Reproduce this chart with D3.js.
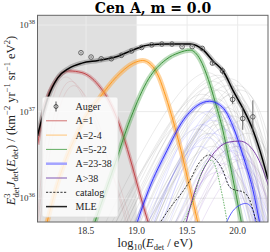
<!DOCTYPE html>
<html>
<head>
<meta charset="utf-8">
<script src="https://cdn.jsdelivr.net/npm/d3@7"></script>
<style>
body { margin: 0; background: #fff; }
text { font-family: "Liberation Serif", "DejaVu Serif", serif; }
</style>
</head>
<body>
<div id="chart"></div>
<script>
// data: [log10(E), log10(E^3 J)]
var augerX = [18.45, 18.55, 18.65, 18.75, 18.85, 18.95, 19.05, 19.15, 19.25, 19.35, 19.45, 19.55, 19.65, 19.75, 19.85, 19.95, 20.05, 20.15];
var augerY = [37.68, 37.63, 37.61, 37.61, 37.65, 37.70, 37.74, 37.77, 37.78, 37.78, 37.75, 37.75, 37.73, 37.56, 37.47, 37.14, 36.92, 36.94];
var augerLo = [37.67, 37.62, 37.60, 37.60, 37.64, 37.69, 37.73, 37.76, 37.77, 37.77, 37.74, 37.74, 37.72, 37.54, 37.43, 37.09, 36.79, 36.77];
var augerHi = [37.69, 37.64, 37.62, 37.62, 37.66, 37.71, 37.75, 37.78, 37.79, 37.79, 37.76, 37.76, 37.74, 37.58, 37.51, 37.19, 37.05, 37.13];

var mle = [[18.02, 36.72], [18.12, 37.15], [18.22, 37.39], [18.33, 37.50], [18.46, 37.56], [18.62, 37.59], [18.79, 37.63],
    [18.96, 37.71], [19.12, 37.77], [19.29, 37.78], [19.53, 37.78], [19.66, 37.71], [19.76, 37.58], [19.86, 37.46],
    [19.96, 37.23], [20.06, 37.02], [20.14, 36.82], [20.22, 36.55], [20.30, 36.22]];
var compA1 = [[18.02, 36.62], [18.10, 37.10], [18.20, 37.36], [18.33, 37.47], [18.46, 37.45], [18.62, 37.31], [18.76, 37.05],
    [18.86, 36.75], [18.96, 36.36], [19.03, 36.06], [19.12, 35.70]];
var compA2 = [[18.11, 35.70], [18.20, 36.10], [18.30, 36.45], [18.40, 36.72], [18.50, 36.95], [18.64, 37.17], [18.80, 37.40],
    [18.97, 37.56], [19.06, 37.59], [19.16, 37.52], [19.22, 37.40], [19.29, 37.17], [19.36, 36.90], [19.44, 36.55],
    [19.52, 36.15], [19.61, 35.70]];
var compA5 = [[18.58, 35.70], [18.77, 36.34], [18.94, 36.92], [19.12, 37.38], [19.29, 37.60], [19.42, 37.68], [19.53, 37.71],
    [19.63, 37.60], [19.71, 37.37], [19.78, 37.10], [19.84, 36.85], [19.94, 36.30], [20.04, 35.70]];
var compA23 = [[19.00, 35.70], [19.12, 36.10], [19.30, 36.55], [19.45, 36.88], [19.60, 37.07], [19.72, 37.12], [19.85, 37.05],
    [19.95, 36.84], [20.05, 36.50], [20.15, 36.10], [20.22, 35.70]];
var compA38 = [[19.49, 35.72], [19.59, 36.13], [19.75, 36.50], [19.92, 36.65], [20.02, 36.66], [20.15, 36.56], [20.25, 36.33], [20.31, 36.12]];
var catalog = [[19.22, 35.70], [19.32, 35.87], [19.52, 36.19], [19.62, 36.41], [19.72, 36.50], [19.75, 36.48], [19.85, 36.33],
    [19.92, 36.13], [19.99, 36.09], [20.04, 36.08], [20.12, 35.98], [20.17, 35.79], [20.20, 35.70]];
var catalogA5 = [[19.45, 35.70], [19.55, 35.95], [19.64, 36.29], [19.74, 36.44], [19.85, 36.02], [19.90, 35.70]];
var catalogA23 = [[19.88, 35.70], [19.95, 35.85], [20.02, 35.92], [20.08, 35.94], [20.15, 35.87], [20.18, 35.70]];

// faint posterior samples: [start, peak x, peak y, end]
var graySamples = [[18.75, 19.75, 37.35, 20.25], [18.80, 19.80, 37.25, 20.30], [18.85, 19.85, 37.40, 20.35], [18.90, 19.70, 37.10, 20.20],
    [18.95, 19.90, 37.30, 20.40], [19.00, 19.85, 37.00, 20.30], [19.05, 19.95, 37.20, 20.45], [19.10, 19.80, 36.85, 20.25],
    [19.15, 19.95, 36.95, 20.40], [19.20, 20.00, 37.10, 20.50], [19.25, 19.90, 36.70, 20.35], [19.30, 20.05, 36.90, 20.50],
    [18.70, 19.65, 37.20, 20.15], [18.65, 19.60, 37.00, 20.10], [19.35, 20.10, 36.75, 20.55], [19.00, 19.75, 36.60, 20.20],
    [18.60, 19.70, 37.45, 20.20], [19.10, 20.00, 37.30, 20.45], [18.90, 19.60, 36.80, 20.10], [19.20, 19.80, 36.50, 20.25],
    [18.70, 19.80, 37.42, 20.28], [18.82, 19.72, 37.28, 20.22], [18.95, 19.78, 37.15, 20.26], [19.05, 19.88, 37.05, 20.36],
    [18.88, 19.92, 37.38, 20.42], [19.12, 19.70, 36.75, 20.18], [19.18, 19.92, 36.85, 20.38], [19.28, 19.98, 36.60, 20.42],
    [18.78, 19.68, 37.15, 20.16], [19.02, 20.02, 37.25, 20.48], [19.40, 20.05, 36.45, 20.45], [18.98, 19.82, 36.90, 20.30]];
var blueSamples = [[19.05, 19.70, 37.00, 20.20], [19.10, 19.75, 36.90, 20.25], [19.15, 19.80, 36.95, 20.30], [19.20, 19.70, 36.70, 20.20],
    [19.00, 19.65, 36.85, 20.15], [19.25, 19.85, 36.80, 20.30], [19.10, 19.80, 37.05, 20.28], [19.30, 19.90, 36.65, 20.35],
    [19.02, 19.75, 36.75, 20.22], [19.18, 19.85, 37.00, 20.32], [19.35, 19.95, 36.55, 20.38], [19.08, 19.62, 36.60, 20.12]];
var purpleSamples = [[19.40, 19.90, 36.55, 20.35], [19.45, 19.95, 36.45, 20.40], [19.35, 19.85, 36.40, 20.30], [19.50, 20.00, 36.60, 20.40],
    [19.55, 20.05, 36.35, 20.45], [19.42, 19.95, 36.70, 20.38], [19.30, 19.80, 36.30, 20.25], [19.48, 20.02, 36.50, 20.42]];
var redSamples = [[18.00, 18.35, 37.35, 18.95], [18.02, 18.38, 37.30, 19.00], [18.00, 18.30, 37.40, 18.98]];

var xTicks = [18.5, 19.0, 19.5, 20.0];
var yTicks = [36, 37, 38];
var legendNames = ["Auger", "A=1", "A=2-4", "A=5-22", "A=23-38", "A>38", "catalog", "MLE"];
var legendColors = ["#444", "#d27272", "#ffc477", "#62ad62", "#a3a3ff", "#8258b4", "#333", "#222"];

var svgWidth = 270, svgHeight = 252;
var x0 = 37.5, x1 = 268, y0 = 15.3, y1 = 222;

var svg = d3.select("#chart").append("svg")
    .attr("width", svgWidth).attr("height", svgHeight);

var xScale = d3.scaleLinear().domain([18.02, 20.30]).range([x0, x1]);
var yScale = d3.scaleLog().domain([Math.pow(10, 35.726), Math.pow(10, 38.112)]).range([y1, y0]);
var py = v => yScale(Math.pow(10, v));

svg.append("clipPath").attr("id", "clip")
    .append("rect").attr("x", x0).attr("y", y0).attr("width", x1 - x0).attr("height", y1 - y0);

// shaded region below 10^19 eV
svg.append("rect")
    .attr("x", x0).attr("y", y0)
    .attr("width", xScale(19.0) - x0).attr("height", y1 - y0)
    .attr("fill", "#e0e0e0");

// grid
svg.selectAll(".gx").data(xTicks).enter().append("line")
    .attr("x1", d => xScale(d)).attr("x2", d => xScale(d))
    .attr("y1", y0).attr("y2", y1)
    .attr("stroke", "#ebebeb").attr("stroke-width", 1);
svg.selectAll(".gy").data(yTicks).enter().append("line")
    .attr("x1", x0).attr("x2", x1)
    .attr("y1", d => py(d)).attr("y2", d => py(d))
    .attr("stroke", "#ebebeb").attr("stroke-width", 1);

var plot = svg.append("g").attr("clip-path", "url(#clip)");

var line = d3.line().x(d => xScale(d[0])).y(d => py(d[1])).curve(d3.curveMonotoneX);
var sampleLine = d3.line().x(d => xScale(d[0])).y(d => py(d[1])).curve(d3.curveNatural);
function samplePts(s) { return [[s[0], 35.5], [s[1], s[2]], [s[3], 35.5]]; }

function drawSamples(arr, color, op) {
    plot.selectAll(null).data(arr).enter().append("path")
        .attr("d", d => sampleLine(samplePts(d)))
        .attr("fill", "none").attr("stroke", color)
        .attr("stroke-width", 0.6).attr("opacity", op);
}
drawSamples(graySamples, "#888", 0.28);
drawSamples(blueSamples, "#6a6aff", 0.28);
drawSamples(purpleSamples, "#9a6ac8", 0.28);
drawSamples(redSamples, "#c44e52", 0.2);

function drawBand(data, color, w, op) {
    plot.append("path").attr("d", line(data))
        .attr("fill", "none").attr("stroke", color)
        .attr("stroke-width", w).attr("opacity", op)
        .attr("stroke-linejoin", "round");
}
function drawLine(data, color, w, dash) {
    plot.append("path").attr("d", line(data))
        .attr("fill", "none").attr("stroke", color)
        .attr("stroke-width", w)
        .attr("stroke-dasharray", dash || null);
}

drawBand(compA1, "#c44e52", 4, 0.35);
drawLine(compA1, "#c0474b", 1);
drawBand(compA2, "#ff9f2a", 5, 0.45);
drawLine(compA2, "#ff9a1f", 1);
drawBand(compA5, "#4aa24a", 5, 0.38);
drawLine(compA5, "#3b943b", 1);
drawBand(compA23, "#4040ff", 4, 0.3);
drawLine(compA23, "#2525ff", 0.9);
drawLine(compA38, "#6e2a9e", 0.9);
drawLine(catalogA5, "#4aa24a", 0.8, "1.5,1.2");
drawLine(catalogA23, "#3a3aff", 0.8);
drawLine(catalog, "#222", 0.9, "2.2,1.4");
drawBand(mle, "#555", 5, 0.35);
drawLine(mle, "#000", 1.5);

// Auger points
plot.selectAll(".eb").data(augerX).enter().append("line")
    .attr("x1", d => xScale(d)).attr("x2", d => xScale(d))
    .attr("y1", (d, i) => py(augerLo[i])).attr("y2", (d, i) => py(augerHi[i]))
    .attr("stroke", "#555").attr("stroke-width", 0.9);
plot.selectAll(".pt").data(augerX).enter().append("circle")
    .attr("cx", d => xScale(d)).attr("cy", (d, i) => py(augerY[i]))
    .attr("r", 2.3).attr("fill", "none")
    .attr("stroke", "#555").attr("stroke-width", 0.9);

// frame
svg.append("rect").attr("x", x0).attr("y", y0)
    .attr("width", x1 - x0).attr("height", y1 - y0)
    .attr("fill", "none").attr("stroke", "#666").attr("stroke-width", 1);

// tick labels
svg.selectAll(".xt").data(xTicks).enter().append("text")
    .attr("x", d => xScale(d)).attr("y", 234)
    .attr("text-anchor", "middle").attr("font-size", "9.5px").attr("fill", "#333")
    .text(d => d.toFixed(1));
var yt = svg.selectAll(".yt").data(yTicks).enter().append("text")
    .attr("x", 35).attr("y", d => py(d) + 3)
    .attr("text-anchor", "end").attr("font-size", "9px").attr("fill", "#333");
yt.append("tspan").text("10");
yt.append("tspan").attr("dy", -4).attr("font-size", "6.5px").text(d => d);

// title
var title = svg.append("text").attr("x", 153).attr("y", 13)
    .attr("text-anchor", "middle").attr("font-size", "14px").attr("font-weight", "bold")
    .style("font-family", "'DejaVu Serif', serif");
title.append("tspan").text("Cen A");
title.append("tspan").text(", m = 0.0");

// axis labels
var xl = svg.append("text").attr("x", 155).attr("y", 247)
    .attr("text-anchor", "middle").attr("font-size", "12.5px").attr("fill", "#222");
xl.append("tspan").text("log");
xl.append("tspan").attr("font-size", "8.5px").attr("dy", 3).text("10");
xl.append("tspan").attr("dy", -3).text("(");
xl.append("tspan").attr("font-style", "italic").text("E");
xl.append("tspan").attr("font-size", "8.5px").attr("dy", 3).text("det");
xl.append("tspan").attr("dy", -3).text(" / eV)");

var yl = svg.append("text")
    .attr("transform", "translate(15," + ((y0 + y1) / 2 + 2) + ") rotate(-90)")
    .attr("text-anchor", "middle").attr("font-size", "12.5px").attr("fill", "#222");
yl.append("tspan").attr("font-style", "italic").text("E");
yl.append("tspan").attr("font-size", "8.5px").attr("dy", -5).text("3");
yl.append("tspan").attr("font-size", "8.5px").attr("dx", -4).attr("dy", 8.5).text("det");
yl.append("tspan").attr("font-style", "italic").attr("dy", -3.5).text("J");
yl.append("tspan").attr("font-size", "8.5px").attr("dy", 3).text("det");
yl.append("tspan").attr("dy", -3).text("(");
yl.append("tspan").attr("font-style", "italic").text("E");
yl.append("tspan").attr("font-size", "8.5px").attr("dy", 3).text("det");
yl.append("tspan").attr("dy", -3).text(") / (km");
yl.append("tspan").attr("font-size", "8.5px").attr("dy", -5).text("\u22122");
yl.append("tspan").attr("dy", 5).text(" yr");
yl.append("tspan").attr("font-size", "8.5px").attr("dy", -5).text("\u22121");
yl.append("tspan").attr("dy", 5).text(" sr");
yl.append("tspan").attr("font-size", "8.5px").attr("dy", -5).text("\u22121");
yl.append("tspan").attr("dy", 5).text(" eV");
yl.append("tspan").attr("font-size", "8.5px").attr("dy", -5).text("2");
yl.append("tspan").attr("dy", 5).text(")");

// legend
var lg = svg.append("g");
lg.append("rect").attr("x", 42).attr("y", 97).attr("width", 76).attr("height", 120)
    .attr("rx", 2).attr("fill", "#fff").attr("fill-opacity", 0.8)
    .attr("stroke", "#ddd").attr("stroke-width", 0.8);
var items = lg.selectAll(".li").data(legendNames).enter().append("g")
    .attr("transform", (d, i) => "translate(0," + (106.5 + i * 14.3) + ")");
items.each(function(d, i) {
    var g = d3.select(this);
    if (i === 0) {
        g.append("line").attr("x1", 56).attr("x2", 56).attr("y1", -5).attr("y2", 5)
            .attr("stroke", "#444").attr("stroke-width", 0.9);
        g.append("circle").attr("cx", 56).attr("cy", 0).attr("r", 2)
            .attr("fill", "none").attr("stroke", "#444").attr("stroke-width", 0.9);
    } else {
        g.append("line").attr("x1", 46).attr("x2", 67).attr("y1", 0).attr("y2", 0)
            .attr("stroke", legendColors[i])
            .attr("stroke-width", i === 4 ? 2.5 : (i === 7 ? 1.5 : 1))
            .attr("stroke-dasharray", i === 6 ? "2.2,1.4" : null);
    }
    g.append("text").attr("x", 75.5).attr("y", 3.5)
        .attr("font-size", "10px").attr("fill", "#222").text(d);
});
</script>
</body>
</html>
